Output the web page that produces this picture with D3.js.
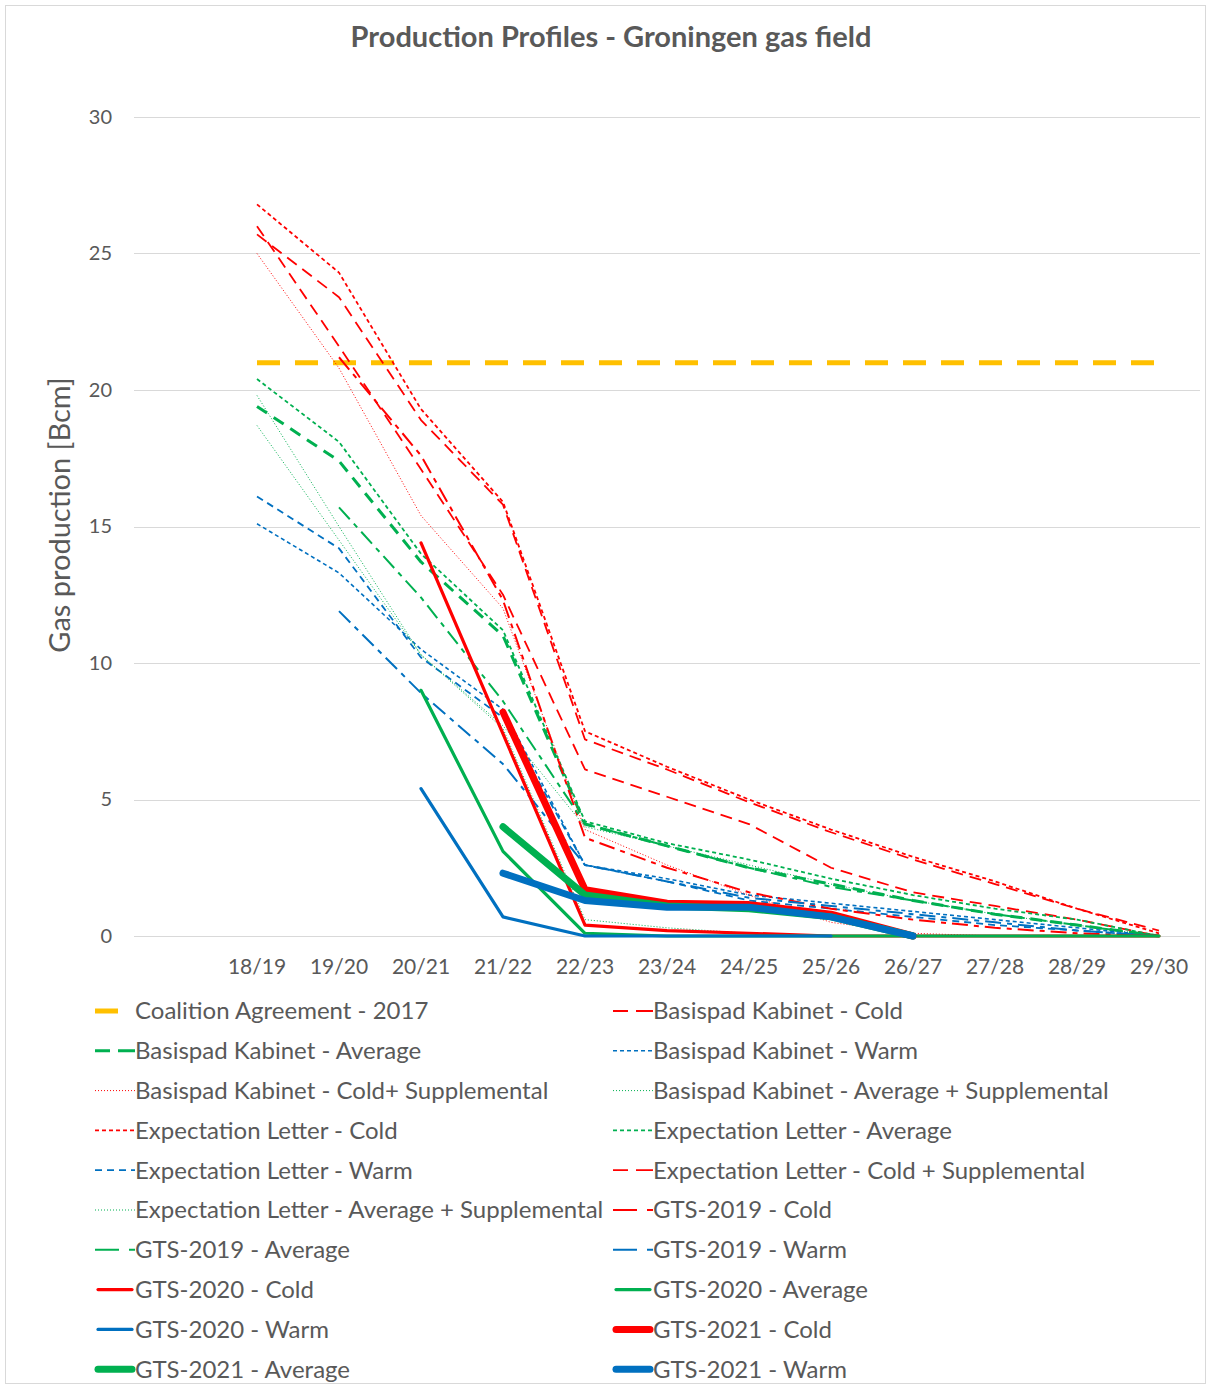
<!DOCTYPE html>
<html><head><meta charset="utf-8">
<script src="https://cdn.jsdelivr.net/npm/d3@7"></script>
<style>body{margin:0;background:#fff}</style>
</head><body>
<svg id="c" width="1211" height="1389"></svg>
<script>
// ---------- data ----------
const categories = ["18/19","19/20","20/21","21/22","22/23","23/24","24/25","25/26","26/27","27/28","28/29","29/30"];
const yTicks = [0,5,10,15,20,25,30];
const title = "Production Profiles - Groningen gas field";
const yLabel = "Gas production [Bcm]";

const coalition2017        = [21,21,21,21,21,21,21,21,21,21,21,21];
const basispadCold         = [26.0,21.6,17.1,12.5,6.1,5.1,4.1,2.5,1.6,1.1,0.6,0.0];
const basispadAverage      = [19.4,17.4,13.7,11.0,4.1,3.3,2.5,1.9,1.3,0.8,0.4,0.0];
const basispadWarm         = [15.1,13.3,10.5,8.3,2.6,2.1,1.5,1.2,0.9,0.6,0.3,0.0];
const basispadColdSuppl    = [25.0,20.8,15.4,12.0,3.9,2.6,1.5,0.5,0.1,0.0,0.0,0.0];
const basispadAverageSuppl = [19.8,15.0,10.3,7.7,4.0,3.3,2.6,1.9,1.3,0.8,0.4,0.0];
const expCold              = [26.8,24.3,19.3,15.9,7.5,6.2,5.0,3.9,2.9,2.0,1.0,0.1];
const expAverage           = [20.4,18.1,14.0,11.2,4.2,3.4,2.8,2.1,1.5,1.0,0.6,0.0];
const expWarm              = [16.1,14.2,10.2,8.0,2.6,2.0,1.3,1.0,0.7,0.4,0.2,0.0];
const expColdSuppl         = [25.7,23.4,18.9,15.8,7.2,6.1,4.9,3.8,2.8,1.9,1.0,0.2];
const expAverageSuppl      = [18.7,14.5,10.3,7.6,0.6,0.3,0.1,0.0,0.0,0.0,0.0,0.0];
const gts2019Cold          = [null,21.2,17.6,12.3,3.6,2.5,1.6,1.0,0.6,0.3,0.1,0.0];
const gts2019Average       = [null,15.7,12.4,8.6,4.1,3.3,2.5,1.8,1.3,0.8,0.4,0.0];
const gts2019Warm          = [null,11.9,8.9,6.3,2.6,2.0,1.4,1.1,0.8,0.5,0.2,0.0];
const gts2020Cold          = [null,null,14.4,7.4,0.4,0.2,0.1,0.0,0.0,0.0,0.0,0.0];
const gts2020Average       = [null,null,9.0,3.1,0.1,0.0,0.0,0.0,0.0,0.0,0.0,0.0];
const gts2020Warm          = [null,null,5.4,0.7,0.0,0.0,0.0,0.0,null,null,null,null];
const gts2021Cold          = [null,null,null,8.2,1.7,1.2,1.15,0.8,0.0,null,null,null];
const gts2021Average       = [null,null,null,4.0,1.5,1.1,1.0,0.7,0.0,null,null,null];
const gts2021Warm          = [null,null,null,2.3,1.3,1.05,1.05,0.7,0.0,null,null,null];

const seriesNames = [
  "Coalition Agreement - 2017","Basispad Kabinet - Cold","Basispad Kabinet - Average","Basispad Kabinet - Warm",
  "Basispad Kabinet - Cold+ Supplemental","Basispad Kabinet - Average + Supplemental",
  "Expectation Letter - Cold","Expectation Letter - Average","Expectation Letter - Warm",
  "Expectation Letter - Cold + Supplemental","Expectation Letter - Average + Supplemental",
  "GTS-2019 - Cold","GTS-2019 - Average","GTS-2019 - Warm",
  "GTS-2020 - Cold","GTS-2020 - Average","GTS-2020 - Warm",
  "GTS-2021 - Cold","GTS-2021 - Average","GTS-2021 - Warm"];
const seriesValues = [coalition2017,basispadCold,basispadAverage,basispadWarm,basispadColdSuppl,basispadAverageSuppl,
  expCold,expAverage,expWarm,expColdSuppl,expAverageSuppl,gts2019Cold,gts2019Average,gts2019Warm,
  gts2020Cold,gts2020Average,gts2020Warm,gts2021Cold,gts2021Average,gts2021Warm];

// ---------- styles ----------
const RED="#FF0000", GREEN="#00B050", BLUE="#0070C0", ORANGE="#FFC000";
const styles = [
  {c:ORANGE,w:5,d:"23,15"},
  {c:RED,w:1.8,d:"12,7",ld:"15,8,17"},
  {c:GREEN,w:3,d:"12,8",ld:"15,8,17"},
  {c:BLUE,w:1.6,d:"4,3"},
  {c:RED,w:1,d:"1,2"},
  {c:GREEN,w:1,d:"1,2"},
  {c:RED,w:1.8,d:"4,3"},
  {c:GREEN,w:1.8,d:"4,3"},
  {c:BLUE,w:1.8,d:"7,5"},
  {c:RED,w:1.8,d:"12,7",ld:"15,8,17"},
  {c:GREEN,w:1,d:"1,2"},
  {c:RED,w:2,d:"16,6,5,6",ld:"24,10,6"},
  {c:GREEN,w:2,d:"16,6,5,6",ld:"24,10,6"},
  {c:BLUE,w:2,d:"16,6,5,6",ld:"24,10,6"},
  {c:RED,w:3.2,d:null},
  {c:GREEN,w:3.2,d:null},
  {c:BLUE,w:3.2,d:null},
  {c:RED,w:7,d:null},
  {c:GREEN,w:7,d:null},
  {c:BLUE,w:7,d:null}
];

const FONT = "Lato, 'Open Sans', sans-serif";
const TXT = "#595959";
const svg = d3.select("#c");

// border
svg.append("rect").attr("x",5.5).attr("y",5.5).attr("width",1200).attr("height",1378)
  .attr("fill","#fff").attr("stroke","#D9D9D9").attr("stroke-width",1);

const pLeft=134, pRight=1200, pTop=117, pBottom=936;
const x = d3.scaleBand().domain([""].concat(categories)).range([pLeft,pRight]);
const y = d3.scaleLinear().domain([0,30]).range([pBottom,pTop]);
const cx = c => x(c) + x.bandwidth()/2;

// gridlines
svg.append("g").selectAll("line").data(yTicks).join("line")
  .attr("x1",pLeft).attr("x2",pRight).attr("y1",d=>Math.round(y(d))+0.5).attr("y2",d=>Math.round(y(d))+0.5)
  .attr("stroke","#D9D9D9").attr("stroke-width",1);

// y axis
const yAxis = svg.append("g").attr("transform",`translate(${pLeft-22},0)`)
  .call(d3.axisLeft(y).tickValues(yTicks).tickSize(0).tickPadding(0));
yAxis.select(".domain").remove();
yAxis.selectAll("text").attr("fill",TXT).style("font-family",FONT).style("font-size","20px");

// x axis
const xAxis = svg.append("g").attr("transform",`translate(0,${pBottom+23})`)
  .call(d3.axisBottom(x).tickSize(0).tickPadding(0).tickFormat(d=>d));
xAxis.select(".domain").remove();
xAxis.selectAll("text").attr("fill",TXT).attr("dy","0.71em").style("font-family",FONT).style("font-size","21px");

// title
svg.append("text").attr("x",611).attr("y",47).attr("text-anchor","middle")
  .attr("fill",TXT).style("font-family",FONT).style("font-weight","bold").style("font-size","29px").text(title);

// y label
svg.append("text").attr("transform",`translate(70,515) rotate(-90)`).attr("text-anchor","middle")
  .attr("fill",TXT).style("font-family",FONT).style("font-size","29px").text(yLabel);

// lines
const line = d3.line().defined(d=>d.v!==null).x(d=>cx(d.c)).y(d=>y(d.v));
const plot = svg.append("g");
seriesValues.forEach((vals,i)=>{
  const st = styles[i];
  const pts = vals.map((v,j)=>({c:categories[j],v:v}));
  plot.append("path").datum(pts).attr("d",line)
    .attr("fill","none").attr("stroke",st.c).attr("stroke-width",st.w)
    .attr("stroke-dasharray",st.d).attr("stroke-linejoin","round")
    .attr("stroke-linecap", st.d ? "butt" : "round");
});

// legend
const lg = svg.append("g");
const rowY0 = 1011, rowH = 39.8;
seriesNames.forEach((name,i)=>{
  const col = i%2, row = Math.floor(i/2);
  const gx = col===0 ? 95 : 613;
  const gy = rowY0 + row*rowH;
  const st = styles[i];
  const g = lg.append("g");
  if(i===0){
    g.append("line").attr("x1",gx).attr("x2",gx+23).attr("y1",gy).attr("y2",gy)
      .attr("stroke",st.c).attr("stroke-width",5);
  } else {
    g.append("line").attr("x1",gx+ (st.d?0:3)).attr("x2",gx+40-(st.d?0:3)).attr("y1",gy).attr("y2",gy)
      .attr("stroke",st.c).attr("stroke-width",st.w).attr("stroke-dasharray",st.ld||st.d)
      .attr("stroke-linecap", st.d ? "butt" : "round");
  }
  g.append("text").attr("x",gx+40).attr("y",gy).attr("dy","0.35em")
    .attr("fill",TXT).style("font-family",FONT).style("font-size","24px").text(name);
});
</script>
</body></html>
